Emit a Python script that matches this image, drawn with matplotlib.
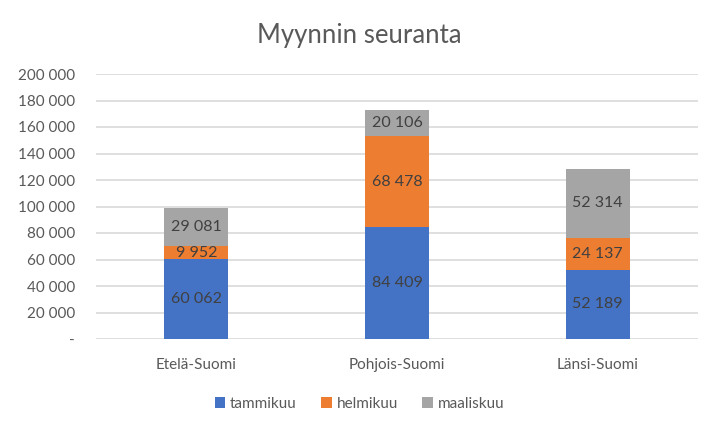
import matplotlib.pyplot as plt
import numpy as np

# data
alueet = ["Etelä-Suomi", "Pohjois-Suomi", "Länsi-Suomi"]
kuukaudet = ["tammikuu", "helmikuu", "maaliskuu"]
tammikuu = [60062, 84409, 52189]
helmikuu = [9952, 68478, 24137]
maaliskuu = [29081, 20106, 52314]
y_ticks = [0, 20000, 40000, 60000, 80000, 100000, 120000, 140000, 160000, 180000, 200000]

colors = ["#4472C4", "#ED7D31", "#A5A5A5"]
txt = "#595959"
plt.rcParams['font.family'] = ['Lato', 'DejaVu Sans']


def fmt(v):
    if v == 0:
        return "-"
    return f"{v:,}".replace(",", " ")


fig = plt.figure(figsize=(7.19, 4.29), dpi=100)
ax = fig.add_axes([96/719, 90/429, 602/719, 265/429])

x = np.arange(len(alueet))
bottom = np.zeros(len(alueet))
for sarja, nimi, c in zip([tammikuu, helmikuu, maaliskuu], kuukaudet, colors):
    bars = ax.bar(x, sarja, 0.32, bottom=bottom, color=c, label=nimi, zorder=3)
    for b, v in zip(bars, sarja):
        ax.text(b.get_x() + b.get_width()/2, b.get_y() + v/2, fmt(v),
                ha="center", va="center", fontsize=11.5, color="#404040", zorder=4)
    bottom += np.array(sarja)

ax.set_xlim(-0.5, 2.5)
ax.set_ylim(0, 200000)
ax.set_yticks(y_ticks)
ax.set_yticklabels([fmt(v) for v in y_ticks])
ax.set_xticks(x)
ax.set_xticklabels(alueet)
ax.tick_params(axis="both", length=0, labelsize=11, colors=txt)
ax.tick_params(axis="y", pad=15)
ax.tick_params(axis="x", pad=14)
ax.grid(axis="y", color="#D9D9D9", linewidth=1.2, zorder=0)
for s in ax.spines.values():
    s.set_visible(False)

fig.text(0.5, 1 - 36/429, "Myynnin seuranta", ha="center", va="center", fontsize=18.5, color=txt)

leg = fig.legend(loc="center", bbox_to_anchor=(0.5, 1 - 404/429), ncol=3, frameon=False,
                 fontsize=11, handlelength=0.7, handleheight=0.7, handletextpad=0.3,
                 columnspacing=1.6, labelcolor=txt)

plt.savefig("out.png", dpi=100)
